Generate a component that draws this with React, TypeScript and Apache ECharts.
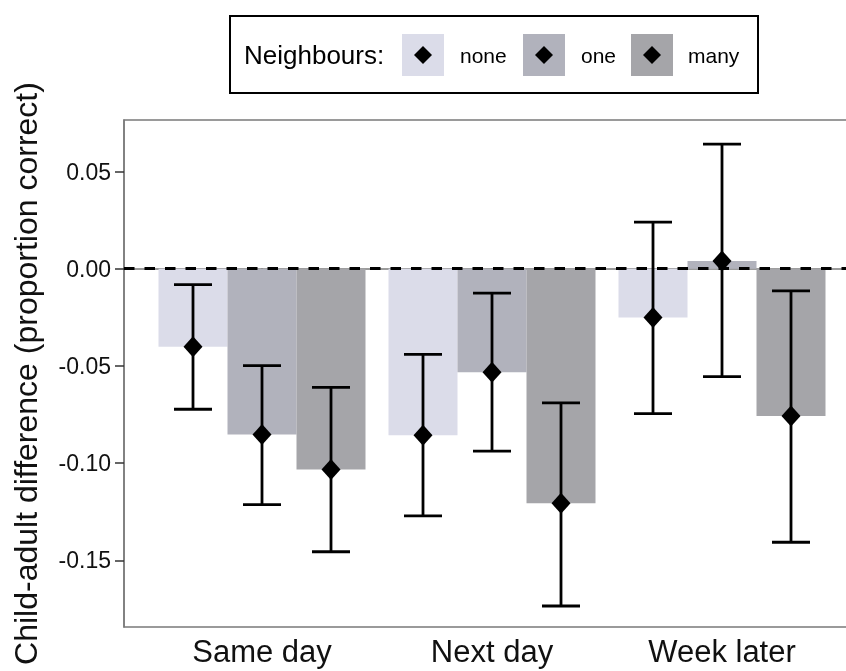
import React, { useEffect, useRef } from "react";
import * as echarts from "echarts";

const categories = ["Same day", "Next day", "Week later"];
const groups = ["none", "one", "many"];
const groupColors = ["#dbdce9", "#b1b2bc", "#a5a5a9"];
// mean values per group (rows) across categories (columns)
const meanNone = [-0.0401, -0.0857, -0.0251];
const meanOne = [-0.0853, -0.0533, 0.004];
const meanMany = [-0.1033, -0.1207, -0.0758];
const lowerNone = [-0.0723, -0.1271, -0.0745];
const lowerOne = [-0.1214, -0.0938, -0.0555];
const lowerMany = [-0.1456, -0.1735, -0.1407];
const upperNone = [-0.0082, -0.0441, 0.024];
const upperOne = [-0.0498, -0.0126, 0.0641];
const upperMany = [-0.061, -0.069, -0.0114];
const yTicks = [-0.15, -0.1, -0.05, 0, 0.05];

const means = [meanNone, meanOne, meanMany];
const lowers = [lowerNone, lowerOne, lowerMany];
const uppers = [upperNone, upperOne, upperMany];

const FONT = "'Liberation Sans', Arial, Helvetica, sans-serif";

export default function App() {
  const ref = useRef<HTMLDivElement>(null);
  useEffect(() => {
    document.body.style.margin = "0";
    document.body.style.overflow = "hidden";
    const chart = echarts.init(ref.current!, null, { renderer: "svg" });
    const dodge = 0.3;
    const barData: any[] = [];
    const errData: any[] = [];
    const pointData: any[] = [];
    groups.forEach((g, gi) => {
      categories.forEach((c, ci) => {
        const x = ci + 1 + (gi - 1) * dodge;
        barData.push({ value: [x, means[gi][ci], gi] });
        errData.push({ value: [x, lowers[gi][ci], uppers[gi][ci]] });
        pointData.push([x, means[gi][ci]]);
      });
    });

    const legendX = [402, 523, 631];
    const legendLabelX = [460, 581, 688];
    const legendGraphics: any[] = [
      {
        type: "rect",
        shape: { x: 230, y: 16, width: 528, height: 77 },
        style: { fill: "#fff", stroke: "#000", lineWidth: 2 },
      },
      {
        type: "text",
        x: 244,
        y: 55,
        style: {
          text: "Neighbours:",
          font: `26px ${FONT}`,
          fill: "#000",
          verticalAlign: "middle",
        },
      },
    ];
    groups.forEach((g, gi) => {
      legendGraphics.push({
        type: "rect",
        shape: { x: legendX[gi], y: 34, width: 42, height: 42 },
        style: { fill: groupColors[gi] },
      });
      legendGraphics.push({
        type: "polygon",
        shape: {
          points: [
            [legendX[gi] + 21, 46],
            [legendX[gi] + 30, 55],
            [legendX[gi] + 21, 64],
            [legendX[gi] + 12, 55],
          ],
        },
        style: { fill: "#000" },
      });
      legendGraphics.push({
        type: "text",
        x: legendLabelX[gi],
        y: 55,
        style: {
          text: g,
          font: `21px ${FONT}`,
          fill: "#000",
          verticalAlign: "middle",
        },
      });
    });

    chart.setOption({
      animation: false,
      grid: {
        left: 124,
        right: 0,
        top: 120,
        bottom: 44,
        show: true,
        borderColor: "#7a7a7a",
        borderWidth: 1.5,
        backgroundColor: "transparent",
      },
      xAxis: {
        type: "value",
        min: 0.4,
        max: 3.6,
        splitLine: { show: false },
        axisLine: { show: true, lineStyle: { color: "#7a7a7a", width: 1.5 } },
        axisTick: {
          show: true,
          customValues: [1, 2, 3],
          length: 7,
          lineStyle: { color: "#333", width: 1.5 },
        },
        axisLabel: {
          customValues: [1, 2, 3],
          formatter: (v: number) => categories[Math.round(v) - 1],
          fontSize: 31,
          fontFamily: FONT,
          color: "#111",
          margin: 9,
        },
      },
      yAxis: {
        type: "value",
        min: -0.1843,
        max: 0.0765,
        splitLine: { show: false },
        axisLine: { show: true, lineStyle: { color: "#7a7a7a", width: 1.5 } },
        axisTick: {
          show: true,
          customValues: yTicks,
          length: 9,
          lineStyle: { color: "#333", width: 1.5 },
        },
        axisLabel: {
          customValues: yTicks,
          formatter: (v: number) => v.toFixed(2),
          fontSize: 23,
          fontFamily: FONT,
          color: "#111",
          margin: 13,
        },
        name: "Child-adult difference (proportion correct)",
        nameLocation: "middle",
        nameRotate: 90,
        nameGap: 82,
        nameTextStyle: { fontSize: 32, fontFamily: FONT, color: "#111" },
      },
      graphic: legendGraphics,
      series: [
        {
          type: "custom",
          z: 1,
          data: barData,
          renderItem: (params: any, api: any) => {
            const x = api.value(0);
            const v = api.value(1);
            const gi = api.value(2);
            const p0 = api.coord([x - dodge / 2, 0]);
            const p1 = api.coord([x + dodge / 2, v]);
            return {
              type: "rect",
              shape: {
                x: p0[0],
                y: Math.min(p0[1], p1[1]),
                width: p1[0] - p0[0],
                height: Math.abs(p1[1] - p0[1]),
              },
              style: { fill: groupColors[gi] },
            };
          },
        },
        {
          type: "custom",
          z: 2,
          data: errData,
          renderItem: (params: any, api: any) => {
            const x = api.value(0);
            const lo = api.coord([x, api.value(1)]);
            const hi = api.coord([x, api.value(2)]);
            const cw = 19;
            const st = { stroke: "#000", lineWidth: 2.8 };
            return {
              type: "group",
              children: [
                { type: "line", shape: { x1: lo[0], y1: lo[1], x2: hi[0], y2: hi[1] }, style: st },
                { type: "line", shape: { x1: lo[0] - cw, y1: lo[1], x2: lo[0] + cw, y2: lo[1] }, style: st },
                { type: "line", shape: { x1: hi[0] - cw, y1: hi[1], x2: hi[0] + cw, y2: hi[1] }, style: st },
              ],
            };
          },
        },
        {
          type: "scatter",
          z: 3,
          data: pointData,
          symbol: "diamond",
          symbolSize: [19, 21],
          itemStyle: { color: "#000", opacity: 1 },
          markLine: {
            silent: true,
            symbol: "none",
            label: { show: false },
            lineStyle: { color: "#000", type: [10.5, 10], width: 2.8, opacity: 1 },
            data: [{ yAxis: 0 }],
          },
        },
      ],
    });
    return () => chart.dispose();
  }, []);
  return (
    <div
      ref={ref}
      style={{ position: "fixed", left: 0, top: 0, width: 860, height: 671 }}
    />
  );
}
